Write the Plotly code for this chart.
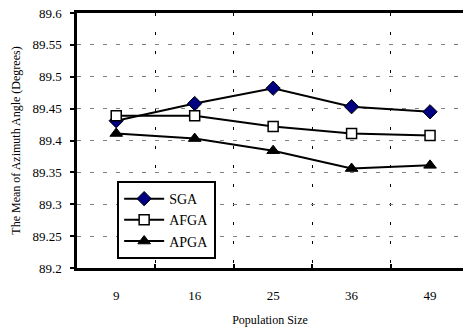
import plotly.graph_objects as go

categories = ["9", "16", "25", "36", "49"]
sga = [89.431, 89.458, 89.482, 89.453, 89.445]
afga = [89.439, 89.439, 89.422, 89.411, 89.408]
apga = [89.411, 89.403, 89.384, 89.356, 89.361]
y_ticks = [89.2, 89.25, 89.3, 89.35, 89.4, 89.45, 89.5, 89.55, 89.6]
y_tick_text = ["89.2", "89.25", "89.3", "89.35", "89.4", "89.45", "89.5", "89.55", "89.6"]

FONT = "Liberation Serif"

fig = go.Figure()
fig.add_trace(go.Scatter(x=categories, y=sga, name="SGA", mode="lines+markers",
                         line=dict(color="black", width=2),
                         marker=dict(symbol="diamond", size=11, color="#000080",
                                     line=dict(color="black", width=1))))
fig.add_trace(go.Scatter(x=categories, y=afga, name="AFGA", mode="lines+markers",
                         line=dict(color="black", width=2),
                         marker=dict(symbol="square", size=10, color="white",
                                     line=dict(color="black", width=1.5))))
fig.add_trace(go.Scatter(x=categories, y=apga, name="APGA", mode="lines+markers",
                         line=dict(color="black", width=2),
                         marker=dict(symbol="triangle-up", size=11, color="black",
                                     line=dict(color="black", width=1))))

fig.update_layout(
    width=463, height=329,
    margin=dict(l=77, r=0, t=13, b=61),
    paper_bgcolor="white", plot_bgcolor="white",
    font=dict(family=FONT, size=12, color="black"),
    xaxis=dict(
        type="category", range=[-0.5, 4.42],
        tickson="boundaries", ticks="inside", ticklen=4, tickwidth=2, tickcolor="black",
        showgrid=True, gridcolor="black", gridwidth=1, griddash="3px,16px",
        showline=True, linecolor="black", linewidth=2.5, mirror=True,
        ticklabelstandoff=14,
        tickfont=dict(family=FONT, size=13),
        title=dict(text="Population Size", font=dict(family=FONT, size=12), standoff=14),
        zeroline=False,
    ),
    yaxis=dict(
        range=[89.2, 89.6], tickvals=y_ticks, ticktext=y_tick_text,
        ticks="outside", ticklen=4, tickwidth=1.5, tickcolor="black",
        showgrid=True, gridcolor="#808080", gridwidth=1, griddash="4px,9px",
        showline=True, linecolor="black", linewidth=2.5, mirror=False,
        ticklabelstandoff=6,
        tickfont=dict(family=FONT, size=13),
        title=dict(text="The Mean of Azimuth Angle (Degrees)", font=dict(family=FONT, size=12), standoff=10),
        zeroline=False,
    ),
    legend=dict(x=0.104, y=0.341, xanchor="left", yanchor="top",
                bordercolor="black", borderwidth=2, bgcolor="white",
                font=dict(family=FONT, size=14), tracegroupgap=0, itemwidth=40),
    showlegend=True,
)

fig.write_html("out.html")
